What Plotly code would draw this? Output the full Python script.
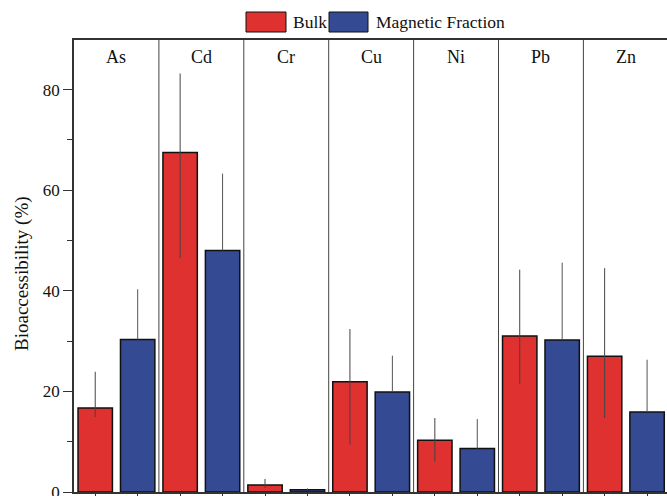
import plotly.graph_objects as go

elements = ["As", "Cd", "Cr", "Cu", "Ni", "Pb", "Zn"]
bulk = [16.7, 67.5, 1.4, 21.9, 10.3, 31.0, 27.0]
bulk_err_plus = [7.2, 15.7, 1.2, 10.5, 4.4, 13.2, 17.5]
bulk_err_minus = [1.8, 21.0, 0.6, 12.5, 4.2, 9.5, 12.3]
magnetic = [30.3, 48.0, 0.43, 19.9, 8.65, 30.2, 15.9]
mag_err_plus = [10.0, 15.3, 0.3, 7.2, 5.85, 15.4, 10.4]
mag_err_minus = [0, 0, 0, 0, 0, 0, 0]
yticks = [0, 20, 40, 60, 80]
series_names = ["Bulk", "Magnetic Fraction"]

RED = "#DE3130"
BLUE = "#344A92"
FONT = "Liberation Serif"

W, H = 667, 496
L, R, T, B = 74, 0, 40, 4
plot_w = W - L - R
plot_h = H - T - B
px_per_unit = 5.03
ymax = plot_h / px_per_unit
panel_px = 84.9
xmax = -0.5 + plot_w / panel_px

xs = list(range(len(elements)))

fig = go.Figure()
fig.add_trace(go.Bar(
    x=xs, y=bulk, name=series_names[0],
    marker=dict(color=RED, line=dict(color="#111111", width=1.5)),
    error_y=dict(type="data", symmetric=False, array=bulk_err_plus,
                 arrayminus=bulk_err_minus, color="#444444", thickness=1, width=0),
    showlegend=False,
))
fig.add_trace(go.Bar(
    x=xs, y=magnetic, name=series_names[1],
    marker=dict(color=BLUE, line=dict(color="#111111", width=1.5)),
    error_y=dict(type="data", symmetric=False, array=mag_err_plus,
                 arrayminus=mag_err_minus, color="#555555", thickness=1, width=0),
    showlegend=False,
))

# panel separators
shapes = []
for i in range(len(elements) - 1):
    shapes.append(dict(type="line", xref="x", yref="paper", x0=i + 0.5, x1=i + 0.5,
                       y0=0, y1=1, line=dict(color="#444444", width=1)))

annotations = []
for i, el in enumerate(elements):
    annotations.append(dict(x=i, y=(plot_h + T - 57) / plot_h, xref="x", yref="paper",
                            text=el, showarrow=False, yanchor="middle",
                            font=dict(family=FONT, size=18, color="#111111")))


def px2paper_x(px):
    return (px - L) / plot_w


def px2paper_y(py):
    return (H - B - py) / plot_h


# custom legend
legend_items = [(246, 286, 291, RED, series_names[0]), (329, 368, 374, BLUE, series_names[1])]
for x0, x1, tx, col, name in legend_items:
    shapes.append(dict(type="rect", xref="paper", yref="paper",
                       x0=px2paper_x(x0), x1=px2paper_x(x1),
                       y0=px2paper_y(32), y1=px2paper_y(12),
                       fillcolor=col, line=dict(color="#111111", width=1)))
    annotations.append(dict(x=px2paper_x(tx), y=px2paper_y(22), xref="paper", yref="paper",
                            text=name, showarrow=False, xanchor="left", yanchor="middle",
                            font=dict(family=FONT, size=17.5, color="#111111")))

# y title
annotations.append(dict(x=px2paper_x(22), y=px2paper_y(274), xref="paper", yref="paper",
                        text="Bioaccessibility (%)", showarrow=False, textangle=-90,
                        xanchor="center", yanchor="middle",
                        font=dict(family=FONT, size=19, color="#111111")))

tickvals_x = []
for i in xs:
    tickvals_x += [i - 0.25, i + 0.25]

fig.update_layout(
    width=W, height=H,
    margin=dict(l=L, r=R, t=T, b=B, pad=0, autoexpand=False),
    paper_bgcolor="white", plot_bgcolor="white",
    barmode="group", bargap=0, bargroupgap=0.19,
    shapes=shapes, annotations=annotations,
    font=dict(family=FONT, size=16, color="#111111"),
    xaxis=dict(range=[-0.5, xmax], showgrid=False, zeroline=False, automargin=False,
               showline=True, linecolor="#333333", linewidth=1.5, mirror=True,
               tickmode="array", tickvals=tickvals_x, ticks="outside", ticklen=6,
               tickcolor="#333333", showticklabels=False),
    yaxis=dict(range=[0, ymax], showgrid=False, zeroline=False, automargin=False,
               showline=True, linecolor="#333333", linewidth=1.5, mirror=False,
               tickmode="array", tickvals=yticks, ticks="outside", ticklen=9,
               tickcolor="#333333", tickfont=dict(family=FONT, size=17),
               ticklabeloverflow="allow",
               minor=dict(tickvals=[10, 30, 50, 70], ticks="outside", ticklen=5,
                          tickcolor="#333333")),
)

fig.write_html("out.html", config={"displayModeBar": False},
               post_script="document.body.style.margin='0';document.body.style.overflow='hidden';")
